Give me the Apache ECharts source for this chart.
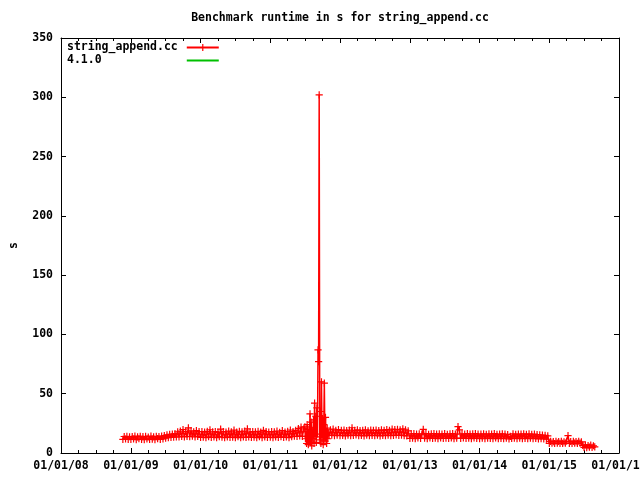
<!DOCTYPE html>
<html>
<head>
<meta charset="utf-8">
<script src="https://cdn.jsdelivr.net/npm/echarts@6/dist/echarts.min.js"></script>
<style>html,body{margin:0;padding:0;background:#fff}#c{width:640px;height:480px}</style>
</head>
<body>
<div id="c"></div>
<script>
// ---- data (runtime in s), sampled on a regular grid starting at the given date ----
const run2008 = [11.5, 13.9, 11.8, 14.1, 11.4, 13.7];
const run2009 = [11.4, 13.9, 11.8, 14.2, 11.3, 13.6, 12.0, 14.1, 11.5, 13.8, 11.2, 14.0, 11.9, 13.5, 11.4, 14.2, 11.7, 13.7, 11.3, 14.1, 12.1, 13.9, 11.5, 14.3, 11.8, 14.6,
  12.6, 15.4, 12.9, 15.8, 13.1, 16.0, 13.4, 16.3, 13.6,
  17.9, 13.5, 18.4, 14.0, 19.8, 13.6, 18.2, 13.9, 21.2, 13.8, 18.6, 14.2, 17.9, 13.5, 18.8, 14.1, 18.0];
const run2010 = [13.1, 18.0, 13.4, 17.6, 12.9, 18.3, 13.7, 19.6, 13.2, 17.8, 13.5, 18.1, 12.9, 17.4, 13.8, 20.2, 13.3, 18.0, 13.0, 17.7, 13.6, 18.4, 13.1, 17.9, 13.4, 19.3,
  13.0, 17.6, 13.7, 18.2, 12.9, 17.8, 13.5, 18.5, 13.2, 20.4, 13.6, 17.5, 13.1, 18.0, 13.4, 17.9, 12.9, 18.3, 13.8, 17.6, 13.0, 19.1, 13.5, 18.1, 13.2, 17.7];
const run2011a = [13.4, 18.1, 13.0, 17.8, 13.6, 18.4, 13.2, 17.5, 13.7, 18.9, 13.1, 17.7, 13.5, 18.2, 12.9, 19.4, 13.8, 18.0, 14.2, 19.1, 13.9, 20.6, 14.5, 21.8, 14.1, 20.3];
const run2011spike = [22, 12, 18, 8, 24, 14, 7, 20, 11, 33, 9, 26, 6, 19, 12, 28, 8, 42, 14, 31, 9, 38, 16, 87, 77, 302,
  11, 35, 8, 60, 13, 29, 7, 24, 59, 10, 30, 15, 8, 21, 12, 17];
const run2011b = [14.8, 19.6, 15.0, 20.1, 14.6, 19.2, 15.1, 19.8];
const run2012 = [14.6, 19.1, 14.9, 19.4, 14.5, 18.8, 15.1, 19.3, 14.7, 21.3, 14.8, 19.0, 15.2, 19.5, 14.6, 18.9, 14.9, 19.2, 14.5, 19.6, 15.0, 18.7, 14.7, 19.4, 14.8, 19.1,
  14.6, 19.3, 15.1, 18.9, 14.5, 19.5, 14.9, 19.0, 14.7, 19.8, 15.0, 19.2, 14.6, 20.2, 14.8, 19.7, 15.2, 20.0, 14.9, 19.6, 15.1, 20.4, 14.7, 19.5, 14.4, 18.6];
const run2013 = [12.3, 16.1, 12.6, 16.4, 12.2, 15.9, 12.8, 16.2, 12.4, 16.0, 20.0, 12.5, 16.3, 12.2, 15.8, 12.7, 16.1, 12.3, 16.4, 12.6, 15.9, 12.2, 16.2, 12.8, 16.0, 12.4,
  16.3, 12.5, 15.8, 12.3, 16.1, 12.7, 16.4, 12.2, 15.9, 12.6, 22.2, 19.5, 12.4, 16.2, 12.8, 16.0, 12.3, 16.3, 12.5, 15.9, 12.2, 16.1, 12.7, 16.4, 12.4, 16.0];
const run2014 = [12.1, 16.0, 12.5, 16.2, 12.0, 15.8, 12.6, 16.1, 12.3, 15.9, 12.2, 16.3, 12.7, 15.7, 12.1, 16.0, 12.4, 16.2, 12.0, 15.9, 12.6, 15.6, 11.8, 14.1, 12.3, 16.1,
  12.5, 15.8, 12.2, 16.0, 12.6, 15.9, 12.1, 16.2, 12.4, 15.7, 12.0, 16.1, 12.5, 15.8, 12.2, 16.0, 12.3, 15.6, 11.9, 15.4, 12.1, 15.2, 11.8, 14.9, 11.6, 14.5];
const run2015 = [8.1, 9.8, 8.3, 9.6, 8.0, 9.9, 8.4, 9.7, 8.2, 9.8, 8.1, 9.5, 8.3, 9.9, 14.6, 8.2, 9.7, 8.0, 9.8, 8.4, 9.6, 8.1, 9.9, 8.3, 9.4,
  6.5, 4.7, 6.8, 4.6, 6.3, 4.9, 6.6, 4.7, 6.1, 5.2];

// segment start dates and sampling step (days)
const segments = [
  ['2008-11-20', 7, run2008],
  ['2009-01-01', 7, run2009],
  ['2010-01-01', 7, run2010],
  ['2011-01-01', 7, run2011a],
  ['2011-07-01', 3, run2011spike],
  ['2011-11-05', 7, run2011b],
  ['2012-01-01', 7, run2012],
  ['2013-01-01', 7, run2013],
  ['2014-01-01', 7, run2014],
  ['2015-01-01', 7, run2015]
];

const seriesNames = ['string_append.cc', '4.1.0'];
const releaseData = [];
const yTicks = { min: 0, max: 350, interval: 50 };
const xRange = ['2008-01-01', '2016-01-01'];

const DAY = 86400000;
function parseDay(s) { const p = s.split('-').map(Number); return new Date(p[0], p[1] - 1, p[2]).getTime(); }
function toPoints(start, step, vals) {
  const t0 = parseDay(start);
  return vals.map((v, i) => [t0 + i * step * DAY, v]);
}
const mainData = [];
segments.forEach(s => toPoints(s[0], s[1], s[2]).forEach(pt => mainData.push(pt)));
const xMin = parseDay(xRange[0]), xMax = parseDay(xRange[1]);

const FONT = 'DejaVu Sans Mono';
const FS = 11.5;
const txt = { fontFamily: FONT, fontWeight: 'bold', fontSize: FS, color: '#000' };
const pad2 = n => (n < 10 ? '0' : '') + n;
const fmtDate = v => { const d = new Date(v); return pad2(d.getMonth() + 1) + '/' + pad2(d.getDate()) + '/' + pad2(d.getFullYear() % 100); };
const PLUS = 'path://M3,0H4.2V3H7.2V4.2H4.2V7.2H3V4.2H0V3H3Z';
const YEAR = 365 * DAY;

const chart = echarts.init(document.getElementById('c'), null, { renderer: 'canvas' });
const axisLine = { show: true, onZero: false, lineStyle: { color: '#000', width: 1 } };
const tick = { show: true, inside: true, length: 5, lineStyle: { color: '#000' } };
const minor = { show: true, splitNumber: 4, length: 3, lineStyle: { color: '#000' } };
chart.setOption({
  animation: false,
  backgroundColor: '#fff',
  title: {
    text: 'Benchmark runtime in s for string_append.cc',
    left: 340, top: 12, textAlign: 'center', padding: 0,
    textStyle: Object.assign({}, txt)
  },
  legend: {
    orient: 'vertical', left: 67, top: 41, padding: 0, itemGap: 0,
    align: 'right', itemWidth: 32, itemHeight: 9,
    data: [seriesNames[0], { name: seriesNames[1], itemStyle: { opacity: 0 } }],
    formatter: n => n.padEnd(16, ' '),
    textStyle: Object.assign({ lineHeight: 13, padding: [0, 4, 0, 0] }, txt)
  },
  grid: { left: 61, right: 21, top: 38, bottom: 27, containLabel: false, outerBoundsMode: 'none' },
  xAxis: [{
    type: 'time', min: xMin, max: xMax, splitNumber: 8,
    minInterval: YEAR, maxInterval: 366 * DAY,
    axisLine: axisLine, axisTick: tick, minorTick: minor,
    splitLine: { show: false },
    axisLabel: Object.assign({ formatter: fmtDate, margin: 7, showMinLabel: true, showMaxLabel: true, hideOverlap: false }, txt)
  }, {
    type: 'time', position: 'top', min: xMin, max: xMax, splitNumber: 8,
    minInterval: YEAR, maxInterval: 366 * DAY,
    axisLine: axisLine, axisTick: tick, minorTick: minor,
    splitLine: { show: false },
    axisLabel: { show: false }
  }],
  yAxis: [{
    type: 'value', min: yTicks.min, max: yTicks.max, interval: yTicks.interval,
    name: 's', nameLocation: 'middle', nameGap: 41,
    nameTextStyle: Object.assign({}, txt),
    axisLine: axisLine, axisTick: tick,
    splitLine: { show: false },
    axisLabel: Object.assign({ margin: 8 }, txt)
  }, {
    type: 'value', position: 'right', min: yTicks.min, max: yTicks.max, interval: yTicks.interval,
    axisLine: axisLine, axisTick: tick,
    splitLine: { show: false },
    axisLabel: { show: false }
  }],
  series: [{
    name: seriesNames[0], type: 'line', xAxisIndex: 0, yAxisIndex: 0,
    data: mainData,
    symbol: PLUS, symbolSize: 7.2, showSymbol: true, showAllSymbol: true,
    lineStyle: { color: '#ff0000', width: 1.5 },
    itemStyle: { color: '#ff0000', borderWidth: 0 },
    emphasis: { disabled: true },
    z: 3
  }, {
    name: seriesNames[1], type: 'line', xAxisIndex: 0, yAxisIndex: 0,
    data: releaseData, symbol: 'none',
    lineStyle: { color: '#00c000', width: 1 },
    itemStyle: { color: '#00c000' }
  }]
});
</script>
</body>
</html>
